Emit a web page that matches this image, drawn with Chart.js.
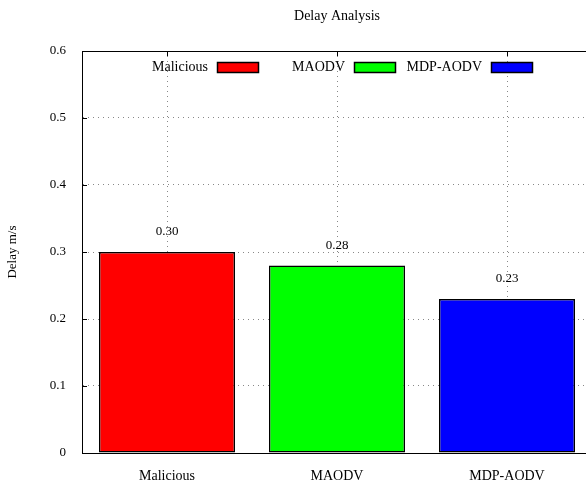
<!DOCTYPE html>
<html>
<head>
<meta charset="utf-8">
<script src="https://cdn.jsdelivr.net/npm/chart.js@4/dist/chart.umd.min.js"></script>
<style>
  html, body { margin: 0; padding: 0; overflow: hidden; background: #fff; }
  canvas { display: block; }
</style>
</head>
<body>
<canvas id="c" width="594" height="484" style="width:594px;height:484px"></canvas>
<script>
const categories = ['Malicious', 'MAODV', 'MDP-AODV'];
const delayValues = [0.30, 0.28, 0.23];
const valueLabels = ['0.30', '0.28', '0.23'];
const barColors = ['#ff0000', '#00ff00', '#0000ff'];
const yTicks = [0, 0.1, 0.2, 0.3, 0.4, 0.5, 0.6];

const FONT = "'Liberation Serif', 'Times New Roman', serif";

const framePlugin = {
  id: 'frame',
  afterDatasetsDraw(chart) {
    const {ctx, chartArea: a, scales} = chart;
    ctx.save();
    // value labels above bars
    const meta = chart.getDatasetMeta(0);
    ctx.fillStyle = '#000';
    ctx.font = '13px ' + FONT;
    ctx.textAlign = 'center';
    ctx.textBaseline = 'middle';
    meta.data.forEach((bar, i) => {
      ctx.fillText(valueLabels[i], bar.x, bar.y - 20);
    });
    // frame
    ctx.strokeStyle = '#000';
    ctx.lineWidth = 1;
    ctx.setLineDash([]);
    ctx.strokeRect(Math.round(a.left) + 0.5, Math.round(a.top) + 0.5,
                   Math.round(a.right - a.left), Math.round(a.bottom - a.top));
    // inward ticks
    ctx.beginPath();
    yTicks.forEach(v => {
      const y = Math.round(scales.y.getPixelForValue(v)) + 0.5;
      ctx.moveTo(a.left, y); ctx.lineTo(a.left + 5, y);
      ctx.moveTo(a.right, y); ctx.lineTo(a.right - 5, y);
    });
    categories.forEach((c, i) => {
      const x = Math.round(scales.x.getPixelForValue(i)) + 0.5;
      ctx.moveTo(x, a.top); ctx.lineTo(x, a.top + 5);
    });
    ctx.stroke();
    // legend (gnuplot style: text then sample box)
    const boxW = 41, boxH = 10;
    const cy = a.top + 16;
    ctx.font = '14px ' + FONT;
    ctx.textAlign = 'right';
    ctx.textBaseline = 'middle';
    categories.forEach((c, i) => {
      const boxLeft = a.left + 135 + 137 * i;
      ctx.fillStyle = '#000';
      ctx.fillText(c, boxLeft - 9, cy);
      ctx.fillStyle = barColors[i];
      ctx.fillRect(boxLeft + 0.5, cy - boxH / 2 + 0.5, boxW, boxH);
      ctx.lineWidth = 1.5;
      ctx.strokeStyle = '#000';
      ctx.strokeRect(boxLeft + 0.5, cy - boxH / 2 + 0.5, boxW, boxH);
    });
    ctx.restore();
  }
};

new Chart(document.getElementById('c'), {
  type: 'bar',
  data: {
    labels: categories,
    datasets: [{
      data: delayValues,
      backgroundColor: barColors,
      borderColor: '#000',
      borderWidth: 1.5,
      borderSkipped: false,
      barPercentage: 0.8,
      categoryPercentage: 1.0
    }]
  },
  options: {
    responsive: false,
    animation: false,
    devicePixelRatio: 1,
    layout: { padding: { left: 0, right: 2, top: 0, bottom: 0 } },
    plugins: {
      legend: { display: false },
      tooltip: { enabled: false },
      title: {
        display: true,
        text: 'Delay Analysis',
        fullSize: false,
        color: '#000',
        font: { family: FONT, size: 14, weight: 'normal', lineHeight: 1.2 },
        padding: { top: 7.6, bottom: 26.6 }
      }
    },
    scales: {
      x: {
        offset: true,
        grid: { display: true, offset: false, drawTicks: false, color: '#888', lineWidth: 1 },
        border: { display: true, color: '#000', width: 1, dash: [1, 4] },
        ticks: { color: '#000', font: { family: FONT, size: 14 }, padding: 15, maxRotation: 0 },
        afterFit: s => { s.height = 31; }
      },
      y: {
        min: 0, max: 0.6,
        afterBuildTicks: s => { s.ticks = yTicks.map(v => ({ value: v })); },
        grid: { display: true, drawTicks: false, color: '#888', lineWidth: 1 },
        border: { display: true, color: '#000', width: 1, dash: [1, 4] },
        ticks: {
          color: '#000',
          font: { family: FONT, size: 13 },
          padding: 16,
          callback: v => (v === 0 ? '0' : v.toFixed(1))
        },
        title: {
          display: true,
          text: 'Delay m/s',
          color: '#000',
          font: { family: FONT, size: 13 },
          padding: { top: 5, bottom: 0 }
        },
        afterFit: s => { s.width = 82; }
      }
    }
  },
  plugins: [framePlugin]
});
</script>
</body>
</html>
